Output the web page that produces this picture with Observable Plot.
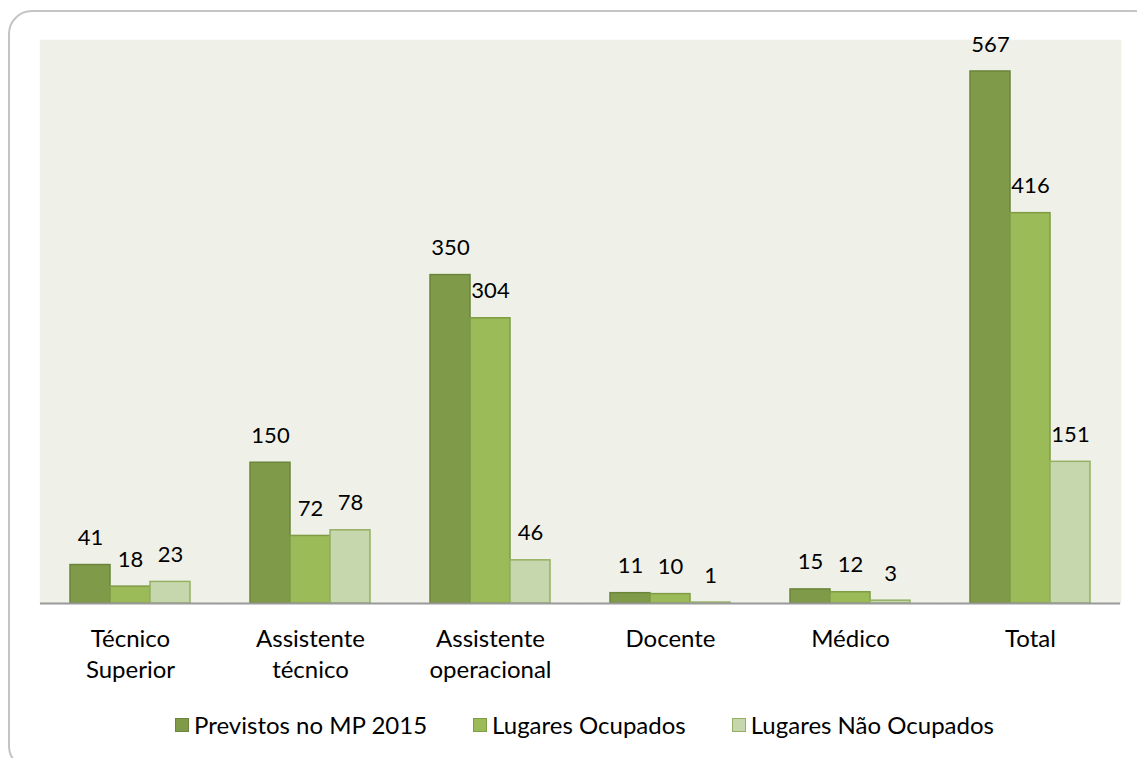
<!DOCTYPE html>
<html>
<head>
<meta charset="utf-8">
<script src="https://cdn.jsdelivr.net/npm/d3@7"></script>
<script src="https://cdn.jsdelivr.net/npm/@observablehq/plot@0.6"></script>
<style>
  html, body { margin: 0; padding: 0; background: #fff; }
  body { width: 1137px; height: 758px; overflow: hidden; position: relative; font-family: Lato, "Open Sans", sans-serif; }
  #frame { position: absolute; left: 8px; top: 10px; width: 1150px; height: 760px; border: 2px solid #c4c4c4; border-radius: 24px; box-sizing: border-box; }
  #chart { position: absolute; left: 0; top: 0; }
  #legend { position: absolute; left: 16px; top: 710px; width: 1137px; display: flex; justify-content: center; gap: 46px; font-size: 24px; color: #000; }
  .item { display: flex; align-items: center; gap: 5px; }
  .sw { width: 14px; height: 14px; box-sizing: border-box; border: 1.5px solid #6f8a3a; }
</style>
</head>
<body>
<div id="frame"></div>
<div id="chart"></div>
<div id="legend"></div>
<script>
const categories = ["Técnico\nSuperior", "Assistente\ntécnico", "Assistente\noperacional", "Docente", "Médico", "Total"];
const series = ["Previstos no MP 2015", "Lugares Ocupados", "Lugares Não Ocupados"];
const previstos = [41, 150, 350, 11, 15, 567];
const ocupados = [18, 72, 304, 10, 12, 416];
const naoOcupados = [23, 78, 46, 1, 3, 151];
const colors = ["#7f9a48", "#9bbb59", "#c6d7ad"];
const strokes = ["#6b853a", "#7f9c45", "#95b062"];

const values = [previstos, ocupados, naoOcupados];
const data = [];
categories.forEach((c, i) => series.forEach((s, j) => data.push({category: c, series: s, value: values[j][i]})));

const chart = Plot.plot({
  width: 1137,
  height: 693,
  marginTop: 40,
  marginLeft: 38,
  marginRight: 15,
  marginBottom: 90,
  style: {fontFamily: "Lato, 'Open Sans', sans-serif", fontSize: "21px", color: "#000", background: "transparent"},
  fx: {domain: categories, padding: 0, label: null},
  x: {domain: series, axis: null, paddingInner: 0, paddingOuter: 0.74},
  y: {domain: [0, 600], axis: null},
  color: {domain: series, range: colors},
  marks: [
    Plot.frame({fill: "#eff1e9", stroke: "#eff1e9", strokeWidth: 1.5}),
    Plot.barY(data, {fx: "category", x: "series", y: "value", fill: "series", stroke: d => strokes[series.indexOf(d.series)], strokeWidth: 1.5}),
    Plot.ruleY([0], {stroke: "#9a9a9a", strokeWidth: 2}),
    Plot.text(data, {fx: "category", x: "series", y: "value", text: d => String(d.value), dy: -27, fontSize: 22, fill: "#000"}),
    Plot.axisFx({anchor: "bottom", tickSize: 0, tickPadding: 21, fontSize: 24, lineHeight: 1.3, label: null, fill: "#000"})
  ]
});
document.getElementById("chart").appendChild(chart);

const legend = document.getElementById("legend");
series.forEach((s, j) => {
  const it = document.createElement("div");
  it.className = "item";
  const sw = document.createElement("span");
  sw.className = "sw";
  sw.style.background = colors[j];
  sw.style.borderColor = strokes[j];
  const t = document.createElement("span");
  t.textContent = s;
  it.appendChild(sw); it.appendChild(t);
  legend.appendChild(it);
});
</script>
</body>
</html>
